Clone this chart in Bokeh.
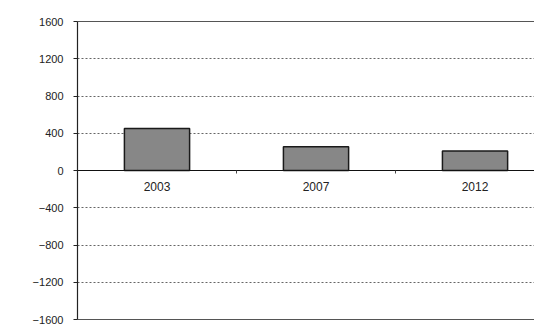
from bokeh.plotting import figure
from bokeh.models import Range1d, LinearAxis, FixedTicker
from bokeh.embed import file_html
from bokeh.resources import INLINE

years = ["2003", "2007", "2012"]
values = [450, 255, 210]
y_ticks = [-1600, -1200, -800, -400, 0, 400, 800, 1200, 1600]
grid_ticks = [-1200, -800, -400, 400, 800, 1200]

xpos = [i + 0.5 for i in range(len(years))]

p = figure(width=534, height=325, output_backend="svg", toolbar_location=None,
           x_range=Range1d(0, 2.874), y_range=Range1d(-1600, 1600),
           x_axis_location=None, y_axis_location=None)
p.min_border_left = 77
p.min_border_right = 0
p.min_border_top = 21
p.min_border_bottom = 6
p.outline_line_color = None
p.background_fill_color = "white"
p.border_fill_color = "white"

p.vbar(x=xpos, top=values, bottom=0, width=0.41, fill_color="#878787",
       line_color="#1a1a1a", line_width=1.5)

# y axis (left)
yax = LinearAxis(ticker=FixedTicker(ticks=y_ticks))
yax.axis_line_color = "#222222"
yax.axis_line_width = 1.2
yax.major_tick_out = 4
yax.major_tick_in = 0
yax.minor_tick_line_color = None
yax.major_tick_line_color = "#222222"
yax.major_label_text_font = "Liberation Sans"
yax.major_label_text_font_size = "11px"
yax.major_label_text_color = "#222222"
yax.major_label_standoff = 10
p.add_layout(yax, "left")

# x axis at zero
xax = LinearAxis(ticker=FixedTicker(ticks=xpos, minor_ticks=[1, 2]),
                 major_label_overrides={x: y for x, y in zip(xpos, years)})
xax.fixed_location = 0
xax.axis_line_color = "#111111"
xax.axis_line_width = 1.2
xax.major_tick_line_color = None
xax.minor_tick_out = 3
xax.minor_tick_in = 0
xax.minor_tick_line_color = "#444444"
xax.major_label_text_font = "Liberation Sans"
xax.major_label_text_font_size = "12px"
xax.major_label_text_color = "#222222"
xax.major_label_standoff = 5
p.add_layout(xax, "below")

# bottom border
bot = LinearAxis(ticker=FixedTicker(ticks=[]))
bot.major_label_text_font_size = "0px"
bot.axis_line_color = "#555555"
bot.major_tick_line_color = None
bot.minor_tick_line_color = None
p.add_layout(bot, "below")

# top border
top = LinearAxis(ticker=FixedTicker(ticks=[]))
top.major_label_text_font_size = "0px"
top.axis_line_color = "#555555"
top.major_tick_line_color = None
top.minor_tick_line_color = None
p.add_layout(top, "above")

p.xgrid.visible = False
p.ygrid.ticker = FixedTicker(ticks=grid_ticks)
p.ygrid.grid_line_color = "#666666"
p.ygrid.grid_line_dash = "2 2"
p.ygrid.grid_line_width = 1

open("out.html", "w").write(file_html(p, INLINE))
